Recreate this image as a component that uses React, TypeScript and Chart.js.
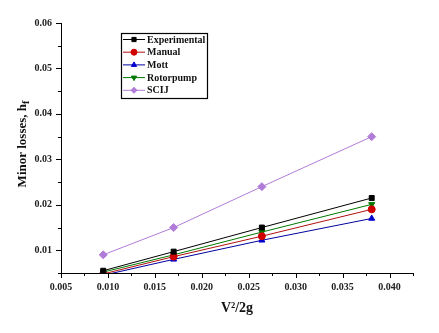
import React, { useEffect, useRef } from 'react';
import { Chart, registerables } from 'chart.js';
import { drawPoint } from 'chart.js/helpers';

Chart.register(...registerables);

const xValues = [0.0095, 0.017, 0.0264, 0.0381];
const experimental = [0.0055, 0.0097, 0.015, 0.0215];
const manual = [0.0048, 0.0086, 0.0131, 0.019];
const mott = [0.0045, 0.008, 0.0122, 0.017];
const rotorpump = [0.0052, 0.009, 0.014, 0.0201];
const scij = [0.009, 0.015, 0.024, 0.035];

const seriesNames = ['Experimental', 'Manual', 'Mott', 'Rotorpump', 'SCIJ'];
const seriesData = [experimental, manual, mott, rotorpump, scij];
const seriesColors = ['#000000', '#d00000', '#0000d0', '#007a00', '#b07cd8'];
const seriesLineColors = ['#000000', '#b01010', '#0000a0', '#007a00', '#b07cd8'];
const seriesStyles = ['rect', 'circle', 'triangle', 'triangle', 'rectRot'];
const seriesRotations = [0, 0, 0, 180, 0];

const xAxisTitle = 'V\u00B2/2g';
const yAxisTitleMain = 'Minor losses, h';
const yAxisTitleSub = 'f';

const FONT = '"Liberation Serif", "Times New Roman", serif';

export default function App() {
  const ref = useRef<HTMLCanvasElement | null>(null);

  useEffect(() => {
    if (!ref.current) return;
    const pointRadius = (i: number) => (seriesStyles[i] === 'rect' ? 3.5 : seriesStyles[i] === 'rectRot' ? 4 : 3.5);

    const decorations = {
      id: 'decorations',
      afterDraw(chart: any) {
        const ctx = chart.ctx as CanvasRenderingContext2D;
        const xs = chart.scales.x;
        const ys = chart.scales.y;
        const area = chart.chartArea;
        ctx.save();
        ctx.strokeStyle = '#000';
        ctx.lineWidth = 1;
        // x ticks
        xs.ticks.forEach((t: any) => {
          const major = Math.round(t.value / 0.0025) % 2 === 0;
          const px = Math.round(xs.getPixelForValue(t.value)) + 0.5;
          ctx.beginPath();
          ctx.moveTo(px, area.bottom);
          ctx.lineTo(px, area.bottom + (major ? 5 : 3));
          ctx.stroke();
        });
        ys.ticks.forEach((t: any) => {
          const major = Math.round(t.value / 0.005) % 2 === 0;
          const py = Math.round(ys.getPixelForValue(t.value)) + 0.5;
          ctx.beginPath();
          ctx.moveTo(area.left, py);
          ctx.lineTo(area.left - (major ? 5 : 3), py);
          ctx.stroke();
        });

        // x title
        ctx.fillStyle = '#111';
        ctx.font = `bold 14px ${FONT}`;
        ctx.textAlign = 'center';
        ctx.textBaseline = 'middle';
        ctx.fillText(xAxisTitle, (area.left + area.right) / 2, 308);

        // y title
        ctx.save();
        ctx.translate(22, (area.top + area.bottom) / 2 - 4);
        ctx.rotate(-Math.PI / 2);
        ctx.font = `bold 13px ${FONT}`;
        const w1 = ctx.measureText(yAxisTitleMain).width;
        ctx.font = `bold 10px ${FONT}`;
        const w2 = ctx.measureText(yAxisTitleSub).width;
        const start = -(w1 + w2) / 2;
        ctx.textAlign = 'left';
        ctx.textBaseline = 'alphabetic';
        ctx.font = `bold 13px ${FONT}`;
        ctx.fillText(yAxisTitleMain, start, 4);
        ctx.font = `bold 10px ${FONT}`;
        ctx.fillText(yAxisTitleSub, start + w1, 7);
        ctx.restore();

        // legend
        const lx = 121, ly = 33, lw = 86, lh = 65;
        ctx.fillStyle = '#fff';
        ctx.fillRect(lx, ly, lw, lh);
        ctx.lineWidth = 1.2;
        ctx.strokeStyle = '#000';
        ctx.strokeRect(lx + 0.5, ly + 0.5, lw, lh);
        ctx.font = `bold 10px ${FONT}`;
        ctx.textAlign = 'left';
        ctx.textBaseline = 'middle';
        seriesNames.forEach((name, i) => {
          const y = 39.5 + i * 12.7;
          ctx.strokeStyle = seriesLineColors[i];
          ctx.lineWidth = 1;
          ctx.beginPath();
          ctx.moveTo(123, y);
          ctx.lineTo(145, y);
          ctx.stroke();
          ctx.fillStyle = seriesColors[i];
          ctx.strokeStyle = seriesColors[i];
          drawPoint(ctx, {
            pointStyle: seriesStyles[i],
            radius: 3,
            rotation: seriesRotations[i],
            borderWidth: 1,
          } as any, 134, y);
          ctx.fillStyle = '#111';
          ctx.fillText(name, 147, y + 0.5);
        });
        ctx.restore();
      },
    };

    const chart = new Chart(ref.current, {
      type: 'line',
      data: {
        datasets: seriesNames.map((name, i) => ({
          label: name,
          data: xValues.map((x, j) => ({ x, y: seriesData[i][j] })),
          borderColor: seriesLineColors[i],
          backgroundColor: seriesColors[i],
          pointBorderColor: seriesColors[i],
          pointBackgroundColor: seriesColors[i],
          borderWidth: 1,
          pointStyle: seriesStyles[i] as any,
          pointRotation: seriesRotations[i],
          pointRadius: pointRadius(i),
          pointBorderWidth: 1,
          tension: 0,
          fill: false,
        })),
      },
      options: {
        responsive: false,
        animation: false,
        layout: { padding: { left: 0, top: 23, right: 26, bottom: 0 } },
        plugins: {
          legend: { display: false },
          tooltip: { enabled: false },
        },
        scales: {
          x: {
            type: 'linear',
            min: 0.005,
            max: 0.0425,
            grid: { display: false, drawTicks: false },
            border: { display: true, color: '#000', width: 1 },
            afterFit: (s: any) => { s.height = 60; },
            ticks: {
              stepSize: 0.0025,
              autoSkip: false,
              maxRotation: 0,
              padding: 8,
              color: '#222',
              font: { family: FONT, size: 10, weight: 'bold' },
              callback: (v: any) => (Math.round(Number(v) / 0.0025) % 2 === 0 ? Number(v).toFixed(3) : ''),
            },
          },
          y: {
            type: 'linear',
            min: 0.005,
            max: 0.06,
            grid: { display: false, drawTicks: false },
            border: { display: true, color: '#000', width: 1 },
            afterFit: (s: any) => { s.width = 61; },
            ticks: {
              stepSize: 0.005,
              autoSkip: false,
              padding: 9,
              color: '#222',
              font: { family: FONT, size: 10, weight: 'bold' },
              callback: (v: any) => (Math.round(Number(v) / 0.005) % 2 === 0 ? Number(v).toFixed(2) : ''),
            },
          },
        },
      },
      plugins: [decorations],
    });
    return () => chart.destroy();
  }, []);

  return (
    <div style={{ position: 'absolute', left: 0, top: 0, width: 439, height: 333, background: '#fff' }}>
      <canvas ref={ref} width={439} height={333} style={{ width: 439, height: 333 }} />
    </div>
  );
}
